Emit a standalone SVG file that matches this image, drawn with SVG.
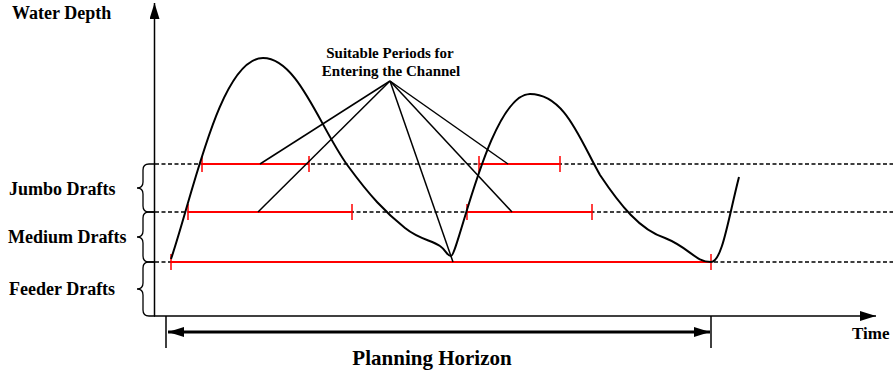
<svg xmlns="http://www.w3.org/2000/svg" width="893" height="371" viewBox="0 0 893 371">
<style>
  text { font-family: "Liberation Serif", "Times New Roman", serif; font-weight: bold; fill: #000; }
  .axis { stroke: #000; stroke-width: 1.5; fill: none; }
  .dash { stroke: #000; stroke-width: 1.3; stroke-dasharray: 4 2.5; fill: none; }
  .red { stroke: #ff0000; stroke-width: 2; fill: none; }
  .tick { stroke: #ff0000; stroke-width: 1.5; fill: none; }
  .brace { stroke: #000; stroke-width: 1.3; fill: none; }
  .curve { stroke: #000; stroke-width: 2; fill: none; }
  .ptr { stroke: #000; stroke-width: 1.5; fill: none; }
</style>
<defs>
  <marker id="ah2" viewBox="0 0 16 10" refX="16" refY="5" markerWidth="16" markerHeight="10" markerUnits="userSpaceOnUse" orient="auto-start-reverse">
    <path d="M0,0 L16,5 L0,10 Z" fill="#000"/>
  </marker>
</defs>

<g id="axes">
  <line class="axis" x1="154.5" y1="316" x2="154.5" y2="3" marker-end="url(#ah2)"/>
  <line class="axis" x1="154" y1="316" x2="876" y2="316" marker-end="url(#ah2)"/>
</g>

<g id="levels">
  <line class="dash" x1="155" y1="164" x2="893" y2="164"/>
  <line class="dash" x1="155" y1="212" x2="893" y2="212"/>
  <line class="dash" x1="155" y1="262" x2="893" y2="262"/>
</g>

<g id="braces">
  <path class="brace" d="M155,164 L149,164 Q143,164 143,170 L143,182 Q143,188 137,188 Q143,188 143,194 L143,206 Q143,212 149,212 L155,212"/>
  <path class="brace" d="M155,212 L149,212 Q143,212 143,218 L143,231 Q143,237 137,237 Q143,237 143,243 L143,256 Q143,262 149,262 L155,262"/>
  <path class="brace" d="M155,262 L149,262 Q143,262 143,268 L143,283 Q143,289 137,289 Q143,289 143,295 L143,310 Q143,316 149,316 L155,316"/>
</g>

<g id="labels">
  <text x="12" y="19" font-size="18">Water Depth</text>
  <text x="9" y="195" font-size="18">Jumbo Drafts</text>
  <text x="8" y="243" font-size="18">Medium Drafts</text>
  <text x="9" y="295" font-size="18">Feeder Drafts</text>
  <text x="852" y="339" font-size="17">Time</text>
  <text x="432" y="365" font-size="21" text-anchor="middle">Planning Horizon</text>
  <text x="390" y="58" font-size="15" text-anchor="middle">Suitable Periods for</text>
  <text x="391" y="76" font-size="15" text-anchor="middle">Entering the Channel</text>
</g>

<g id="periods">
  <line class="red" x1="202" y1="164" x2="309" y2="164"/>
  <line class="red" x1="479" y1="164" x2="560" y2="164"/>
  <line class="red" x1="188" y1="212" x2="352" y2="212"/>
  <line class="red" x1="467" y1="212" x2="592" y2="212"/>
  <line class="red" x1="171" y1="262" x2="711" y2="262"/>
  <path class="tick" d="M202,156 V172 M309,156 V172 M479,156 V172 M560,156 V172 M188,204 V220 M352,204 V220 M467,204 V220 M592,204 V220 M171,254 V270 M711,254 V270"/>
</g>

<g id="water-depth-curve">
  <path class="curve" d="M171,259 C193,195 220,58 263,58 C298,58 320,128 348,166 C370,196 385,212 405,228 C420,240 432,240 440,246 C446,250 447,256 451,256 C458,256 490,94 530,94 C565,94 580,140 600,175 C620,205 640,230 665,238 C690,248 695,262 711,262 C722,262 728,220 739,177"/>
</g>

<g id="connectors">
  <line class="ptr" x1="390" y1="81" x2="260" y2="164"/>
  <line class="ptr" x1="390" y1="81" x2="258" y2="212"/>
  <line class="ptr" x1="390" y1="81" x2="453" y2="262"/>
  <line class="ptr" x1="390" y1="81" x2="512" y2="212"/>
  <line class="ptr" x1="390" y1="81" x2="508" y2="164"/>
</g>

<g id="planning-horizon">
  <line stroke="#000" stroke-width="1.5" x1="166" y1="316" x2="166" y2="348"/>
  <line stroke="#000" stroke-width="1.5" x1="711" y1="316" x2="711" y2="348"/>
  <line stroke="#000" stroke-width="3" x1="168" y1="332" x2="710" y2="332" marker-start="url(#ah2)" marker-end="url(#ah2)"/>
</g>
</svg>
